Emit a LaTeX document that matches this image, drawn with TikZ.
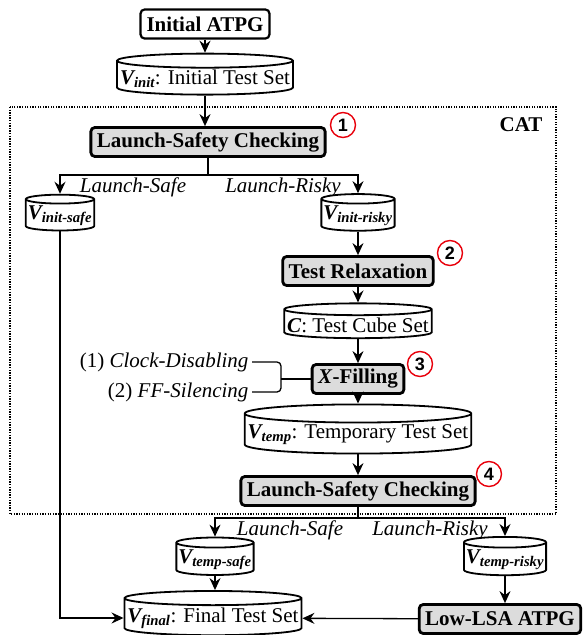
\documentclass[tikz,border=0pt]{standalone}
\usepackage{fontspec}
\setmainfont{Liberation Serif}
\newfontfamily\numfont{Liberation Sans}
\usepackage{xcolor}
\definecolor{boxgray}{HTML}{DCDCDC}
\definecolor{markred}{HTML}{E8000B}
\newcommand{\Vsub}[1]{\textbf{\textit{V\textsubscript{#1}}}}
\usetikzlibrary{arrows.meta, positioning, shapes.geometric}

\tikzset{
  arr/.style={line width=1.3pt, -{Stealth[length=12pt, width=11pt, inset=4pt]}},
  plainbox/.style={draw, line width=2.2pt, rounded corners=4pt, fill=white,
    inner xsep=6pt, inner ysep=1pt, minimum height=29pt,
    font=\fontsize{21}{23}\selectfont\bfseries},
  procbox/.style={plainbox, line width=2.8pt, fill=boxgray},
  dbset/.style={draw, cylinder, shape border rotate=90, shape aspect=0.08,
    line width=1.8pt, fill=white, inner xsep=3pt, inner ysep=1.5pt,
    font=\fontsize{21}{23}\selectfont},
  smalldb/.style={dbset, shape aspect=0.13, inner xsep=2pt, inner ysep=1.5pt},
  stepmark/.style={circle, draw=markred, line width=1.4pt, inner sep=0pt,
    minimum size=25pt, font=\fontsize{18}{18}\numfont\bfseries},
  branchlbl/.style={font=\fontsize{21}{23}\selectfont\itshape},
}

\begin{document}
\begin{tikzpicture}[x=1pt, y=-1pt]
  \useasboundingbox (0,0) rectangle (585,635);

  % --- CAT frame ---
  \draw[line width=1.3pt, dash pattern=on 1.3pt off 1.3pt] (10,107) rectangle (556,514);
  \node[font=\fontsize{21}{23}\selectfont\bfseries] (cat) at (521,125) {CAT};

  % --- Top: initial test set ---
  \node[plainbox] (iatpg) at (205,24) {Initial ATPG};
  \node[dbset] (vinit) at (205,79) {\Vsub{init}: Initial Test Set};

  % --- Step 1: launch-safety checking ---
  \node[procbox] (lsc1) at (208,142) {Launch-Safety Checking};
  \node[stepmark] (m1) at (343,125) {1};
  \coordinate (br1) at (208,175);
  \node[branchlbl] (ls1) at (133,187) {Launch-Safe};
  \node[branchlbl] (lr1) at (283,187) {Launch-Risky};
  \node[smalldb] (vis) at (60,216) {\Vsub{init-safe}};
  \node[smalldb] (vir) at (358,216) {\Vsub{init-risky}};

  % --- Step 2: test relaxation ---
  \node[procbox] (trel) at (358,271) {Test Relaxation};
  \node[stepmark] (m2) at (450,253) {2};
  \node[dbset] (cube) at (358,325) {\textbf{\textit{C}}: Test Cube Set};

  % --- Step 3: X-filling ---
  \node[procbox] (xfill) at (358,379) {\textit{X}-Filling};
  \node[stepmark] (m3) at (420,364) {3};
  \node[anchor=east, font=\fontsize{21}{23}\selectfont] (cd) at (252,362) {(1) \textit{Clock-Disabling}};
  \node[anchor=east, font=\fontsize{21}{23}\selectfont] (ffs) at (252,392) {(2) \textit{FF-Silencing}};
  \coordinate (xj) at (281,379);
  \node[dbset] (vtmp) at (358,435) {\Vsub{temp}: Temporary Test Set};

  % --- Step 4: launch-safety checking again ---
  \node[procbox] (lsc4) at (358,491) {Launch-Safety Checking};
  \node[stepmark] (m4) at (489,474) {4};
  \coordinate (br4) at (358,518);
  \node[branchlbl] (ls4) at (290,530) {Launch-Safe};
  \node[branchlbl] (lr4) at (430,530) {Launch-Risky};
  \node[smalldb] (vts) at (215,560) {\Vsub{temp-safe}};
  \node[smalldb] (vtr) at (505,560) {\Vsub{temp-risky}};

  % --- Bottom: final test set ---
  \node[procbox] (latpg) at (500,619) {Low-LSA ATPG};
  \node[dbset] (vfin) at (213,618) {\Vsub{final}: Final Test Set};

  % connectors
  \draw[arr] (iatpg) -- (vinit);
  \draw[arr] (vinit.south) -- (vinit.south |- lsc1.north);
  \draw[line width=1.3pt] (lsc1.south) -- (br1);
  \draw[arr] (br1) -| (vis.north);
  \draw[arr] (br1) -| (vir.north);
  \draw[arr] (vir) -- (trel);
  \draw[arr] (trel) -- (cube);
  \draw[arr] (cube) -- (xfill);
  \draw[line width=1.3pt, rounded corners=4pt] (cd.east) -| (xj) |- (ffs.east);
  \draw[line width=1.3pt] (xj) -- (xfill.west);
  \draw[arr] (xfill) -- (vtmp);
  \draw[arr] (vtmp) -- (lsc4);
  \draw[line width=1.3pt] (lsc4.south) -- (br4);
  \draw[arr] (br4) -| (vts.north);
  \draw[arr] (br4) -| (vtr.north);
  \draw[arr] (vts.south) -- (vts.south |- vfin.north);
  \draw[arr] (vtr.south) -- (vtr.south |- latpg.north);
  \draw[arr] (latpg) -- (vfin);
  \draw[arr] (vis.south) |- (vfin.west);
\end{tikzpicture}
\end{document}
